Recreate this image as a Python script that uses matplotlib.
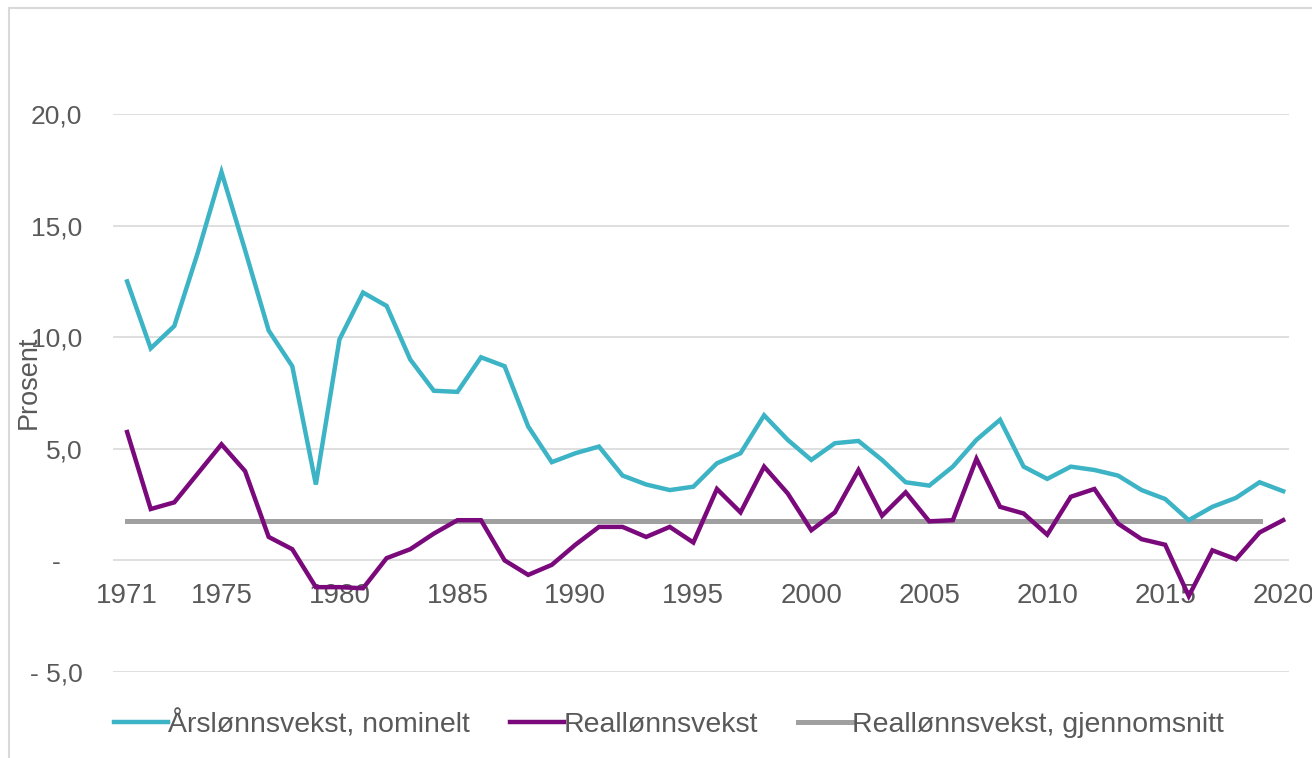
import matplotlib.pyplot as plt

plt.rcParams['font.family'] = ['Liberation Sans', 'DejaVu Sans']

years = list(range(1971, 2021))

nominal = [12.5, 9.5, 10.5, 13.8, 17.4, 13.9, 10.3, 8.7, 3.4, 9.9,
           12.0, 11.4, 9.0, 7.6, 7.55, 9.1, 8.7, 6.0, 4.4, 4.8,
           5.1, 3.8, 3.4, 3.15, 3.3, 4.35, 4.8, 6.5, 5.4, 4.5,
           5.25, 5.35, 4.5, 3.5, 3.35, 4.2, 5.4, 6.3, 4.2, 3.65,
           4.2, 4.05, 3.8, 3.15, 2.75, 1.8, 2.4, 2.8, 3.5, 3.1]

real = [5.75, 2.3, 2.6, 3.9, 5.2, 4.0, 1.05, 0.5, -1.2, -1.2,
        -1.25, 0.1, 0.5, 1.2, 1.8, 1.8, 0.0, -0.65, -0.2, 0.7,
        1.5, 1.5, 1.05, 1.5, 0.8, 3.2, 2.15, 4.2, 3.0, 1.35,
        2.15, 4.05, 2.0, 3.05, 1.75, 1.8, 4.55, 2.4, 2.1, 1.15,
        2.85, 3.2, 1.65, 0.95, 0.7, -1.6, 0.45, 0.05, 1.25, 1.8]

avg_years = list(range(1971, 2020))
real_avg = [1.75] * len(avg_years)

xtick_years = [1971, 1975, 1980, 1985, 1990, 1995, 2000, 2005, 2010, 2015, 2020]
ytick_vals = [-5, 0, 5, 10, 15, 20]
ytick_labels = ['- 5,0', '-   ', '5,0', '10,0', '15,0', '20,0']

fig = plt.figure(figsize=(13.12, 7.58), dpi=100)
ax = fig.add_axes([0.0861, 0.1135, 0.8964, 0.7361])

# light frame round the whole chart
fig.patches.append(plt.Rectangle((0.007, -0.01), 1.0, 0.999,
                                 transform=fig.transFigure, fill=False,
                                 edgecolor='#d9d9d9', linewidth=1.5))

ax.plot(years, nominal, color='#3cb4c6', linewidth=3.2, label='Årslønnsvekst, nominelt',
        solid_joinstyle='miter', zorder=3)
ax.plot(years, real, color='#7a0a7c', linewidth=3.2, label='Reallønnsvekst',
        solid_joinstyle='miter', zorder=4)
ax.plot(avg_years, real_avg, color='#a0a0a0', linewidth=3.6,
        label='Reallønnsvekst, gjennomsnitt', zorder=2)

ax.set_xlim(1970.4, 2020.25)
ax.set_ylim(-5, 20)

ax.set_yticks(ytick_vals)
ax.set_yticklabels(ytick_labels)
ax.set_xticks(xtick_years)
ax.set_xticklabels([str(y) for y in xtick_years])

ax.grid(axis='y', color='#d9d9d9', linewidth=1.2)
ax.set_axisbelow(True)

for s in ['top', 'right', 'left']:
    ax.spines[s].set_visible(False)
ax.spines['bottom'].set_position(('data', 0))
ax.spines['bottom'].set_color('none')

ax.tick_params(axis='y', length=0, pad=22, labelsize=19, labelcolor='#595959')
ax.tick_params(axis='x', length=0, pad=16, labelsize=20, labelcolor='#595959')

ax.set_ylabel('Prosent', fontsize=19.5, color='#595959')
ax.yaxis.set_label_coords(-0.0605, 0.52)

ax.legend(loc='center', bbox_to_anchor=(0.51, 0.045), bbox_transform=fig.transFigure,
          ncol=3, frameon=False, fontsize=20.5, handlelength=1.9, handletextpad=0.0,
          columnspacing=1.4, labelcolor='#595959')

fig.savefig('out.png', dpi=100)
